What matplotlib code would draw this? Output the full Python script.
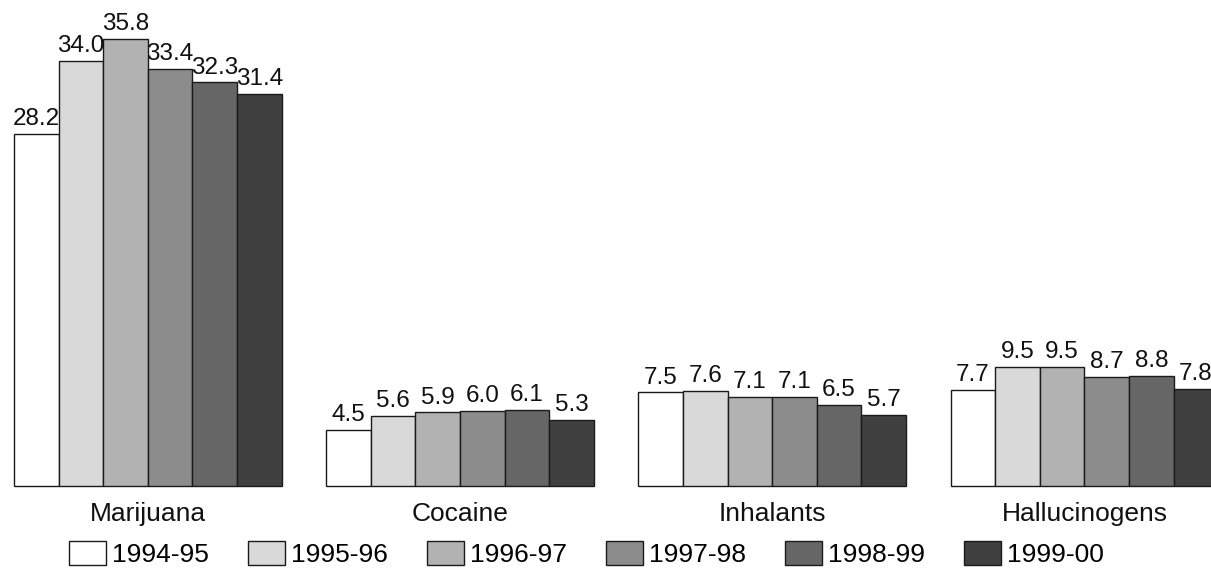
import matplotlib.pyplot as plt
import numpy as np

plt.rcParams['font.family'] = ['Liberation Sans', 'DejaVu Sans']

categories = ["Marijuana", "Cocaine", "Inhalants", "Hallucinogens"]
years = ["1994-95", "1995-96", "1996-97", "1997-98", "1998-99", "1999-00"]
values = {
    "1994-95": [28.2, 4.5, 7.5, 7.7],
    "1995-96": [34.0, 5.6, 7.6, 9.5],
    "1996-97": [35.8, 5.9, 7.1, 9.5],
    "1997-98": [33.4, 6.0, 7.1, 8.7],
    "1998-99": [32.3, 6.1, 6.5, 8.8],
    "1999-00": [31.4, 5.3, 5.7, 7.8],
}
colors = ["#ffffff", "#d9d9d9", "#b2b2b2", "#8c8c8c", "#666666", "#404040"]

fig = plt.figure(figsize=(12.11, 5.68), dpi=100)
# axes spans from the baseline up to the top edge of the figure
ax = fig.add_axes([14 / 1211, 82 / 568, 1 - 14 / 1211, 486 / 568])

group_x = np.arange(len(categories)) * 7
for j, yr in enumerate(years):
    xs = group_x + j
    ax.bar(xs, values[yr], width=1.0, align="edge", color=colors[j],
           edgecolor="#1a1a1a", linewidth=1.0, label=yr, clip_on=False)
    for x, v in zip(xs, values[yr]):
        ax.text(x + 0.5, v + 0.3, f"{v:.1f}", ha="center", va="bottom",
                fontsize=17.5, color="#111111")

ax.set_xlim(0, (1211 - 14) / 44.6)
ax.set_ylim(0, 486 / 12.5)
ax.axis("off")

for x, c in zip(group_x, categories):
    ax.text(x + 3, -1.3, c, ha="center", va="top", fontsize=19, color="#111111")

ax.legend(loc="upper left", bbox_to_anchor=(69 / 1211, 1 - 541 / 568),
          bbox_transform=fig.transFigure, ncol=6, frameon=False,
          fontsize=19, handlelength=1.4, handleheight=1.0,
          handletextpad=0.23, columnspacing=1.48, borderpad=0, borderaxespad=0)

fig.savefig("out.png", dpi=100)
